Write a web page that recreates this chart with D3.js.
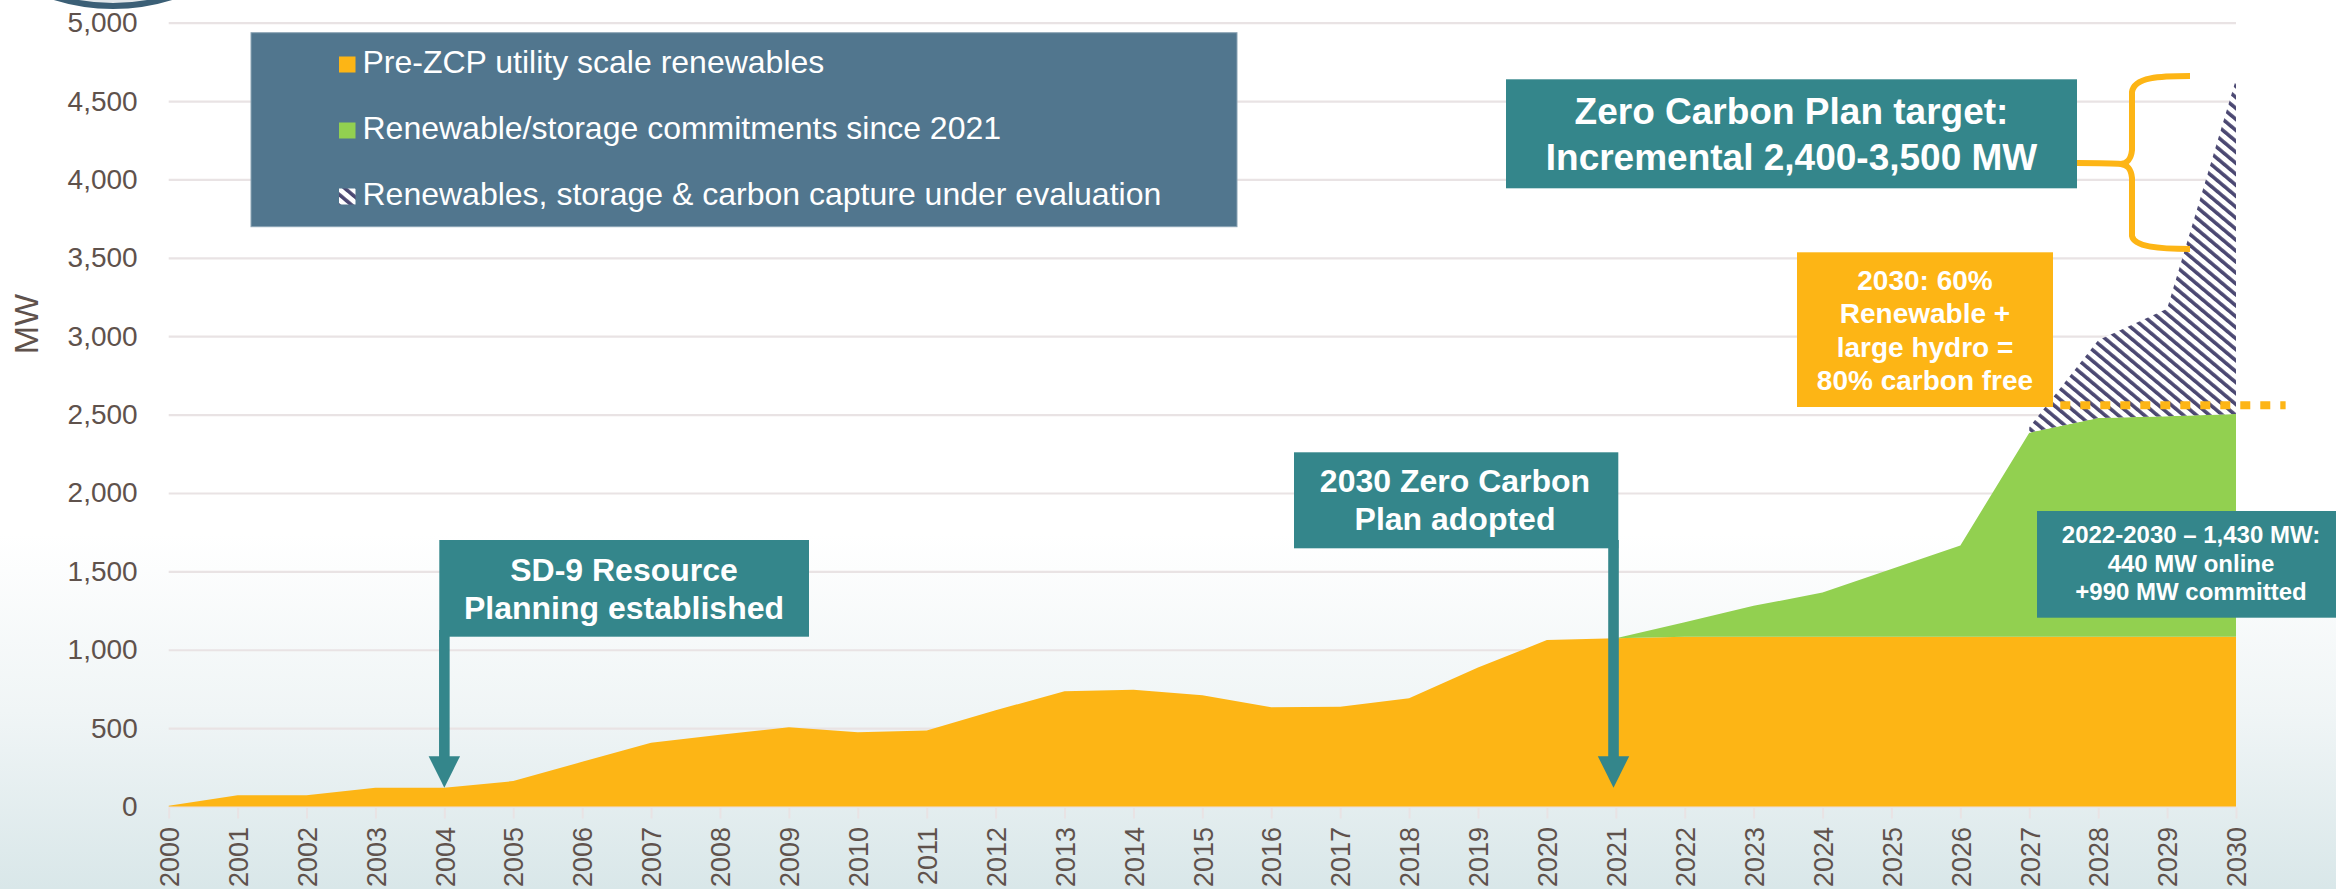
<!DOCTYPE html>
<html><head><meta charset="utf-8">
<script src="https://cdn.jsdelivr.net/npm/d3@7"></script>
<style>
html,body{margin:0;padding:0;background:#fff;overflow:hidden;}
svg{display:block;}
text{font-family:"Liberation Sans",Arial,Helvetica,sans-serif;}
</style>
</head><body>
<svg id="chart" width="2336" height="889"></svg>
<script>
// ---------- DATA ----------
const years = [2000,2001,2002,2003,2004,2005,2006,2007,2008,2009,2010,2011,2012,2013,2014,2015,
               2016,2017,2018,2019,2020,2021,2022,2023,2024,2025,2026,2027,2028,2029,2030];
// Pre-ZCP utility scale renewables (MW)
const preZCP = [5,71,71,120,120,162,285,407,457,505,473,485,614,735,745,709,
                633,637,690,886,1062,1073,1083,1083,1083,1083,1083,1083,1083,1083,1083];
// Cumulative total incl. renewable/storage commitments since 2021 (MW)
const commitYears = [2021,2022,2023,2024,2025,2026,2027,2028,2029,2030];
const commitTotal = [1073,1175,1280,1365,1515,1665,2385,2478,2490,2504];
// Cumulative total incl. resources under evaluation (MW)
const evalYears = [2027,2028,2029,2030];
const evalTotal = [2420,2975,3175,4640];
// 2030 carbon-free target line (MW)
const targetLine = {from: 2027.45, to: 2030.72, value: 2560};
const yTicks = [0,500,1000,1500,2000,2500,3000,3500,4000,4500,5000];
const legendLabels = ["Pre-ZCP utility scale renewables",
                      "Renewable/storage commitments since 2021",
                      "Renewables, storage & carbon capture under evaluation"];
const arrowNotes = [
  {year: 2004, tip: 120, lines: ["SD-9 Resource","Planning established"]},
  {year: 2021, tip: 120, lines: ["2030 Zero Carbon","Plan adopted"]}
];

// ---------- SETUP ----------
const W = 2336, H = 889;
const C = {orange:"#fdb515", green:"#92d050", teal:"#34868b", legend:"#51768e",
           hatch:"#4b4872", grid:"#e9e3e4", label:"#5f524c"};
const svg = d3.select("#chart");
const defs = svg.append("defs");

const bg = defs.append("linearGradient").attr("id","bg").attr("x1",0).attr("y1",0).attr("x2",0).attr("y2",1);
bg.append("stop").attr("offset","0").attr("stop-color","#ffffff");
bg.append("stop").attr("offset","0.6").attr("stop-color","#ffffff");
bg.append("stop").attr("offset","0.8").attr("stop-color","#f0f5f6");
bg.append("stop").attr("offset","1").attr("stop-color","#d9e7e9");
svg.append("rect").attr("width",W).attr("height",H).attr("fill","url(#bg)");

const pat = defs.append("pattern").attr("id","hatch").attr("patternUnits","userSpaceOnUse")
  .attr("width",8.4).attr("height",8.4).attr("patternTransform","rotate(-50)");
pat.append("rect").attr("width",8.4).attr("height",8.4).attr("fill","#ffffff");
pat.append("rect").attr("width",3.6).attr("height",8.4).attr("fill",C.hatch);

// decorative logo arc at top-left
svg.append("circle").attr("cx",113).attr("cy",-190).attr("r",196)
  .attr("fill","#e1e6e9").attr("stroke","#3b5f76").attr("stroke-width",6);

const x = d3.scaleLinear().domain([2000,2030]).range([168.7,2236]);
const y = d3.scaleLinear().domain([0,5000]).range([806.5,22.7]);

// ---------- GRID + Y AXIS ----------
const yAxis = svg.append("g").attr("transform",`translate(${x(2000)},0)`)
  .call(d3.axisLeft(y).tickValues(yTicks).tickSize(-(x(2030)-x(2000))).tickPadding(31)
        .tickFormat(d3.format(",")));
yAxis.select(".domain").remove();
yAxis.selectAll("line").attr("stroke",C.grid).attr("stroke-width",2.2);
yAxis.selectAll("text").attr("fill",C.label).style("font-size","28px")
  .style("font-family","'Liberation Sans',Arial,sans-serif");

svg.append("text").attr("transform","translate(38,324) rotate(-90)")
  .attr("text-anchor","middle").attr("fill",C.label).style("font-size","34px").text("MW");

// ---------- AREAS ----------
const area = d3.area().x(d=>x(d.year)).y0(d=>y(d.lo)).y1(d=>y(d.hi));
const orangeData = years.map((yr,i)=>({year:yr, lo:0, hi:preZCP[i]}));
const greenData = commitYears.map((yr,i)=>({year:yr, lo:preZCP[years.indexOf(yr)], hi:commitTotal[i]}));
const hatchData = evalYears.map((yr,i)=>({year:yr, lo:commitTotal[commitYears.indexOf(yr)], hi:evalTotal[i]}));

svg.append("path").datum(orangeData).attr("d",area).attr("fill",C.orange);
svg.append("path").datum(greenData).attr("d",area).attr("fill",C.green);
svg.append("path").datum(hatchData).attr("d",area).attr("fill","url(#hatch)");

// target dotted line
svg.append("line").attr("x1",x(targetLine.from)).attr("x2",x(targetLine.to))
  .attr("y1",y(targetLine.value)).attr("y2",y(targetLine.value))
  .attr("stroke",C.orange).attr("stroke-width",8).attr("stroke-dasharray","10,10");

// ---------- X AXIS ----------
const xAxis = svg.append("g").attr("transform",`translate(0,${y(0)+1})`)
  .call(d3.axisBottom(x).tickValues(years).tickSize(11).tickFormat(d3.format("d")));
xAxis.select(".domain").remove();
xAxis.selectAll("line").attr("stroke",C.grid).attr("stroke-width",2);
xAxis.selectAll("text").attr("transform","rotate(-90)").attr("x",-19.5).attr("y",0)
  .attr("dy","0.36em").attr("text-anchor","end").attr("fill",C.label)
  .style("font-size","27px").style("font-family","'Liberation Sans',Arial,sans-serif");

// ---------- LEGEND ----------
const lg = svg.append("g");
lg.append("rect").attr("x",251).attr("y",32.7).attr("width",986).attr("height",194)
  .attr("fill",C.legend).attr("stroke","#8aa3b4").attr("stroke-width",1);
const legendFills = [C.orange, C.green, "url(#hatch)"];
legendLabels.forEach((t,i)=>{
  const base = 73 + i*66;
  lg.append("rect").attr("x",339).attr("y",base-16.5).attr("width",16.5).attr("height",16)
    .attr("fill",legendFills[i]);
  lg.append("text").attr("x",362.5).attr("y",base).attr("fill","#ffffff")
    .style("font-size","32px").text(t);
});

// ---------- ANNOTATIONS ----------
function box(x0,y0,x1,y1,fill,lines,cx,baselines,size){
  svg.append("rect").attr("x",x0).attr("y",y0).attr("width",x1-x0).attr("height",y1-y0).attr("fill",fill);
  lines.forEach((t,i)=>svg.append("text").attr("x",cx).attr("y",baselines[i])
    .attr("text-anchor","middle").attr("fill","#ffffff").style("font-weight","bold")
    .style("font-size",size+"px").text(t));
}
// arrows
function arrow(xc, top, tipY){
  const headH = 31.5, headW = 31.4, shaft = 10.6;
  svg.append("rect").attr("x",xc-shaft/2).attr("y",top).attr("width",shaft).attr("height",tipY-headH-top+1)
    .attr("fill",C.teal);
  svg.append("path").attr("d",`M${xc-headW/2},${tipY-headH} L${xc+headW/2},${tipY-headH} L${xc},${tipY} Z`)
    .attr("fill",C.teal);
}
// SD-9
const a0 = arrowNotes[0];
box(439.3,540,809,636.7,C.teal,a0.lines,624,[581,619],32);
arrow(x(a0.year), 630, y(a0.tip));
// ZCP adopted
const a1 = arrowNotes[1];
box(1294,452.3,1618.3,548.3,C.teal,a1.lines,1455,[491.7,530],32);
arrow(x(a1.year)-2.3, 540, y(a1.tip));

// Zero Carbon Plan target
box(1506,79.3,2077,188.3,C.teal,["Zero Carbon Plan target:","Incremental 2,400-3,500 MW"],1791.5,[124,170],37);
// brace
svg.append("path").attr("d",
  "M2077,163 C2095,163 2112,163 2121,164 " +
  "M2190,76 C2160,76 2134,77 2132,92 L2132,150 C2131,160 2127,163 2121,164 " +
  "C2127,165 2131,168 2132,178 L2132,236 C2134,247 2160,249 2190,249")
  .attr("fill","none").attr("stroke",C.orange).attr("stroke-width",6).attr("stroke-linecap","butt");

// 2030 orange box
box(1797,252.3,2053,407,C.orange,["2030: 60%","Renewable +","large hydro =","80% carbon free"],1925,[290,323.3,356.7,390],28);

// bottom-right box
box(2037,511,2336,617.7,C.teal,["2022-2030 \u2013 1,430 MW:","440 MW online","+990 MW committed"],2191,[543.3,571.7,600],24);
</script>
</body></html>
